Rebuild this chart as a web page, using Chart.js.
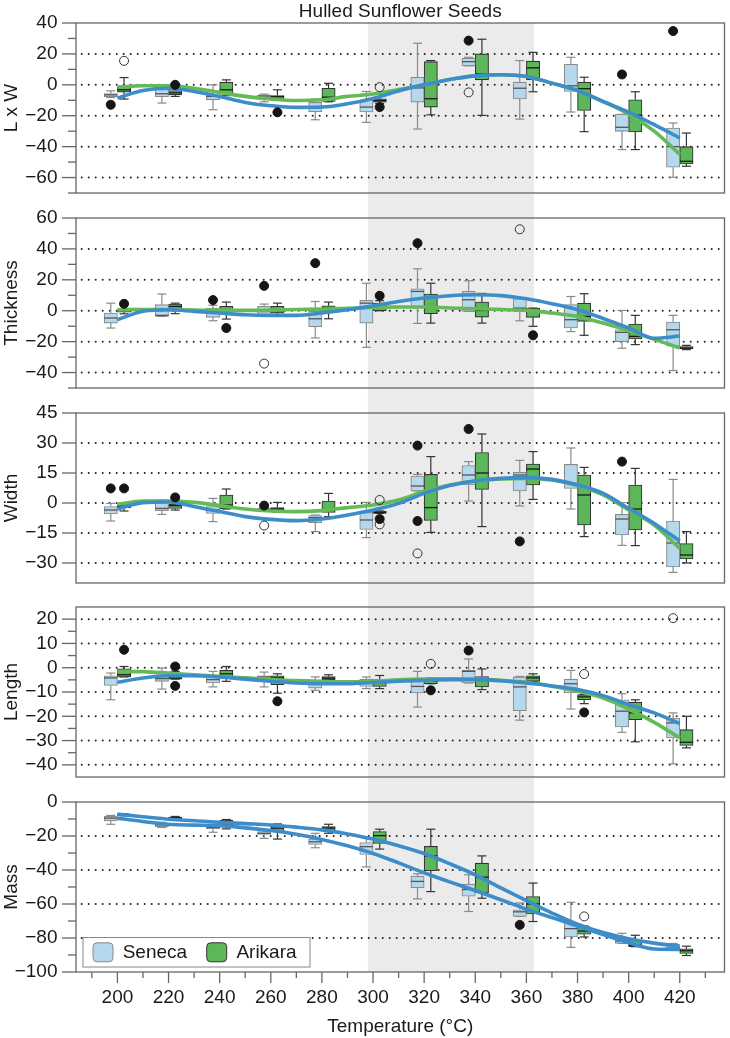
<!DOCTYPE html>
<html>
<head>
<meta charset="utf-8">
<title>Hulled Sunflower Seeds</title>
<script src="https://cdn.jsdelivr.net/npm/chart.js@4.4.1/dist/chart.umd.min.js"></script>
<style>
  body { margin: 0; background: #fff; }
  #wrap { position: relative; width: 730px; height: 1038px; }
  #wrap canvas { position: absolute; left: 0; }
</style>
</head>
<body>
<div id="wrap">
  <canvas id="lxw" width="730" height="200" style="top:0px"></canvas>
  <canvas id="thick" width="730" height="195" style="top:200px"></canvas>
  <canvas id="width" width="730" height="195" style="top:395px"></canvas>
  <canvas id="length" width="730" height="195" style="top:590px"></canvas>
  <canvas id="mass" width="730" height="253" style="top:785px"></canvas>
</div>
<script>
// ---- data ----
var groups = ['Seneca', 'Arikara'];
var temps = [200, 220, 240, 260, 280, 300, 320, 340, 360, 380, 400, 420];
var curveTemps = [200, 210, 220, 230, 240, 250, 260, 270, 280, 290, 300, 310,
                  320, 330, 340, 350, 360, 370, 380, 390, 400, 410, 420];
var xTicks = [200, 220, 240, 260, 280, 300, 320, 340, 360, 380, 400, 420];
var xMinor = [190, 210, 230, 250, 270, 290, 310, 330, 350, 370, 390, 410, 430];
var shadeRange = [298, 363];

// boxes are [low whisker, q1, median, q3, high whisker] for each temperature
var lxwRange = [-70, 40];
var lxwTicks = [-60, -40, -20, 0, 20, 40];
var lxwMinor = [-70, -50, -30, -10, 10, 30];
var lxwSeneca = [
  [-8.2, -7.7, -6.5, -5.6, -3.9], [-11.8, -7.7, -5.8, -2.8, -1], [-16.1, -9.7, -7.5, -6.5, 0],
  [-11, -8.6, -7.3, -6.5, -6], [-22.6, -17.4, -14.4, -11.4, -9.2], [-24.3, -17.6, -14.4, -9.7, -4.3],
  [-28.6, -11.2, -2, 4.9, 26.9], [12.3, 12.3, 15, 17.2, 17.8], [-22.2, -9.2, -2.2, 1.7, 15.7],
  [-17.6, -4.3, -0.6, 13.3, 17.8], [-41.9, -30.1, -27.5, -19.1, -19.1], [-59.8, -53.3, -40, -28, -24.7]
];
var lxwArikara = [
  [-9.2, -4.7, -3.2, -1.5, 4.7], [-7.5, -6.5, -5.2, -3.7, -2], [-7, -6, -3.2, 1.7, 3.2],
  [-9.5, -9, -7.7, -6.9, -3.2], [-11, -10.8, -8, -2.2, 1], [-12, -11.2, -10.1, -9, -6],
  [-19.4, -14.4, -9, 15, 15.7], [-19.8, 3.2, 7.1, 20, 29.5], [-4.5, 3.2, 11, 15.3, 21],
  [-30.3, -16.6, -2.5, 1.7, 4.9], [-41.9, -30.5, -19.6, -9.7, -4.5], [-52.7, -51.2, -49.5, -40, -31.2]
];
var lxwSenecaCurve = [-8.6, -3.7, -2.2, -4.3, -7.5, -11.4, -13.5, -14.6, -14.4, -12.3, -8.8, -4,
                      0, 3.5, 5.8, 6.5, 5.4, 1.1, -3.7, -10.8, -17.6, -25.8, -34.4];
var lxwArikaraCurve = [-1.5, -0.6, -0.6, -2.2, -4.9, -7.5, -9.2, -10.1, -9.7, -7.5, -6, -3,
                       0, 3.5, 5.8, 6.5, 5.4, 1.1, -3.7, -10.8, -19, -30, -45];
// outliers: [group, temperature, value, marker kind]
var lxwOutliers = [
  ['Seneca', 200, -12.9, 'solid'], ['Seneca', 340, 28.6, 'solid'], ['Seneca', 340, -4.9, 'hollow'],
  ['Seneca', 400, 6.7, 'solid'], ['Seneca', 420, 34.8, 'solid'],
  ['Arikara', 200, 15.5, 'hollow'], ['Arikara', 220, 0, 'solid'], ['Arikara', 260, -17.8, 'solid'],
  ['Arikara', 300, -1.5, 'hollow'], ['Arikara', 300, -14.4, 'solid']
];

var thickRange = [-50, 60];
var thickTicks = [-40, -20, 0, 20, 40, 60];
var thickMinor = [-50, -30, -10, 10, 30, 50];
var thickSeneca = [
  [-11.2, -8, -4.7, -1.5, 4.9], [-3.7, -3.7, -3, 3.9, 10.8], [-6.5, -4.3, -1.5, 1.7, 3.5],
  [-3.7, -3.7, -0.5, 2.8, 4.3], [-17.6, -10.3, -5.2, -0.4, 6], [-23.7, -8, 4.9, 6.7, 17.8],
  [-8.2, 1.7, 12.5, 14.2, 27.1], [-0.4, -0.4, 7.1, 12.5, 19.4], [-6.5, 1.3, 1.7, 7.7, 7.7],
  [-13.5, -11.2, -5.8, 3.9, 9.2], [-24.3, -20, -14, -12.3, 0.2], [-38.7, -23, -12.3, -7.3, -3]
];
var thickArikara = [
  [-2, -1, 0, 0.5, 1], [-1.9, 0.6, 2.8, 4.3, 4.9], [-5.4, -2.2, 0.6, 2.8, 5.6],
  [-2.6, -1.5, 0, 2.8, 4.9], [-5.2, -0.4, 1.7, 3.2, 5.6], [0, 0, 2, 5, 6.5],
  [-8, -1.9, 1.7, 10.8, 17.8], [-8, -4.1, 0.2, 5.6, 11.2], [-10.1, -4.3, 0, 1.7, 1.7],
  [-15.9, -6.9, -3.7, 4.9, 11], [-21.9, -18.3, -16.6, -8.6, -3], [-25.2, -24.5, -24.1, -23.2, -22.4]
];
var thickSenecaCurve = [-5.8, -0.4, 0.6, -0.4, -1.5, -2.6, -3, -3, -1.5, 0.6, 3.2, 6,
                        8.2, 9.7, 10.3, 9.8, 7.7, 4.5, 0.6, -5, -11.2, -17.8, -16.4];
var thickArikaraCurve = [0.6, 0.8, 0.6, 0.4, 0.2, 0.2, 0.4, 0.8, 1.1, 1.5, 2.2, 2.4,
                         2.4, 1.8, 1.3, 0.8, 0.2, -1.5, -3.7, -8, -12.9, -18.5, -24.1];
var thickOutliers = [
  ['Seneca', 240, 6.9, 'solid'], ['Seneca', 260, 16.1, 'solid'], ['Seneca', 260, -34.2, 'hollow'],
  ['Seneca', 280, 30.8, 'solid'], ['Seneca', 320, 43.7, 'solid'], ['Seneca', 360, 52.7, 'hollow'],
  ['Arikara', 200, 4.5, 'solid'], ['Arikara', 240, -11.2, 'solid'], ['Arikara', 300, 9.7, 'solid'],
  ['Arikara', 360, -15.9, 'solid']
];

var widthRange = [-40, 45];
var widthTicks = [-30, -15, 0, 15, 30, 45];
var widthMinor = [];
var widthSeneca = [
  [-9, -5.5, -3.5, -1.8, -0.2], [-5.7, -3.8, -2.7, 0.7, 1.5], [-9.3, -5.2, -3.5, -1.8, 2.3],
  [-4, -3.5, -3, -2.5, -2], [-14.3, -9.8, -7.3, -6.3, -6], [-17.3, -13.2, -8.5, -4.7, 0.3],
  [6, 6, 8.5, 13.5, 14.3], [1, 9, 14, 18.7, 20.7], [-1.5, 6, 14, 15.3, 21.3],
  [-3, 7.3, 9.8, 19.3, 27.5], [-21.2, -16, -8, -5.7, 0.2], [-34.7, -32, -20, -9, 11.8]
];
var widthArikara = [
  [-4, -2.3, -1.7, -1, -0.5], [-3.5, -2.7, -1.3, -0.7, 1], [-3, -3, -1, 4, 7],
  [-4.7, -4, -3, -2.3, 0.3], [-6.8, -4.7, -3.5, 1, 4.8], [-5.2, -5.2, -4.7, -4, -4],
  [-14.7, -8.7, -2.3, 14.3, 23.2], [-11.8, 6.8, 15, 25.2, 34.5], [1.8, 9, 17, 19.5, 25.7],
  [-16.8, -11, 4, 14, 17.8], [-21.3, -13.5, -3, 9, 17.3], [-30, -28, -26, -20.3, -14.3]
];
var widthSenecaCurve = [-3, 0.2, 0.5, -1.8, -4.3, -6.8, -8.2, -8.8, -8, -6, -3.5, -0.2,
                        4.8, 8.7, 11, 12.3, 12.7, 11.8, 9, 4.8, -2.7, -10.2, -19];
var widthArikaraCurve = [-0.7, 1, 1, 0.3, -1.3, -3, -4, -4.3, -3.8, -2.3, -1, 1.5,
                         5.7, 9, 11, 12, 12.3, 11.5, 8.7, 4, -3.5, -11, -22.7];
var widthOutliers = [
  ['Seneca', 200, 7.3, 'solid'], ['Seneca', 260, -1.3, 'solid'], ['Seneca', 260, -11.3, 'hollow'],
  ['Seneca', 320, 28.7, 'solid'], ['Seneca', 320, -9, 'solid'], ['Seneca', 320, -25.2, 'hollow'],
  ['Seneca', 340, 37, 'solid'], ['Seneca', 360, -19.2, 'solid'], ['Seneca', 400, 20.7, 'solid'],
  ['Arikara', 200, 7.3, 'solid'], ['Arikara', 220, 2.8, 'solid'], ['Arikara', 300, 1.5, 'hollow'],
  ['Arikara', 300, -8, 'solid'], ['Arikara', 300, -10.7, 'hollow']
];

var lengthRange = [-45, 25];
var lengthTicks = [-40, -30, -20, -10, 0, 10, 20];
var lengthMinor = [-35, -25, -15, -5, 5, 15];
var lengthSeneca = [
  [-13.2, -7.3, -4.2, -3.3, -2.2], [-8.8, -5.6, -4.5, -2.9, -0.1], [-7.9, -6.3, -4.9, -2.9, -1.5],
  [-7.9, -4.7, -3.8, -3.3, -1.8], [-9.3, -8.4, -6.8, -5.6, -3.8], [-8.6, -7.7, -6.3, -4.7, -3.8],
  [-16.2, -10.4, -7.7, -5.2, -1.5], [-6.3, -6.3, -1.5, -1.1, 3.6], [-21.6, -17.7, -7.9, -3.8, -3.6],
  [-17, -10.4, -6.6, -4.7, -1.1], [-26.6, -24.4, -17.9, -13.2, -10.7], [-39.6, -28.9, -22.7, -20.7, -18.6]
];
var lengthArikara = [
  [-3.8, -3.8, -2.9, -0.5, 0.5], [-4.7, -4.7, -4.2, -3.3, -1.5], [-5.6, -3.8, -2.5, -1.1, 0.5],
  [-10.5, -7, -4.2, -3.3, -2.5], [-4.9, -4.9, -4.3, -3.6, -2.9], [-8.6, -7.7, -6.3, -4.9, -3.2],
  [-6.6, -6.6, -5.6, -4.7, -4.2], [-9, -7.9, -4.7, -3.6, -0.5], [-5.6, -5.6, -4.2, -3.3, -2.5],
  [-14.8, -13.2, -12, -11.1, -11.1], [-30.5, -21.4, -18.6, -14.2, -13.2], [-33, -32, -30.7, -25.5, -20]
];
var lengthSenecaCurve = [-6, -4.2, -3.3, -3.3, -3.8, -4.7, -5.6, -6.3, -6.6, -6.6, -6.1, -5.6,
                         -5.2, -4.9, -4.9, -5.4, -6.3, -7.5, -9, -11.5, -15.2, -18.6, -23];
var lengthArikaraCurve = [-1.5, -1.6, -2.2, -2.9, -3.6, -4.2, -4.9, -5.3, -5.6, -5.8, -5.5, -5,
                          -4.7, -4.6, -4.7, -5.2, -6, -7.6, -9.7, -12.5, -17, -22.5, -28.9];
var lengthOutliers = [
  ['Seneca', 340, 7.1, 'solid'], ['Seneca', 420, 20.4, 'hollow'],
  ['Arikara', 200, 7.4, 'solid'], ['Arikara', 220, 0.5, 'solid'], ['Arikara', 220, -7.5, 'solid'],
  ['Arikara', 260, -13.8, 'solid'], ['Arikara', 320, 1.6, 'hollow'], ['Arikara', 320, -9.3, 'solid'],
  ['Arikara', 380, -2.6, 'hollow'], ['Arikara', 380, -18.4, 'solid']
];

var massRange = [-100, 0];
var massTicks = [-100, -80, -60, -40, -20, 0];
var massMinor = [-90, -70, -50, -30, -10];
var massSeneca = [
  [-13.1, -11.1, -9.5, -8.5, -7.9], [-15, -14.5, -13.5, -12.5, -11.9], [-17.8, -15.8, -14.9, -13.5, -13.1],
  [-21.4, -19, -18.4, -17.4, -16.4], [-26.9, -25, -23.4, -21.8, -18.4], [-38.2, -30.9, -26.3, -23.8, -21.4],
  [-57, -50.5, -46.7, -43.6, -42.2], [-64.4, -55.4, -51.5, -48.3, -42.8], [-67.3, -67.3, -64.6, -63.4, -59.4],
  [-85.5, -79.4, -74.5, -70.9, -59], [-83.2, -83.2, -81.8, -80.8, -77.2], [-87.1, -87.1, -86.1, -85.1, -83.2]
];
var massArikara = [
  [-8.1, -7.9, -7.5, -7.1, -6.9], [-10.7, -10.3, -9.5, -8.9, -8.5], [-15.8, -13.5, -11.9, -10.7, -10.3],
  [-21.8, -17.4, -15.4, -13.5, -12.9], [-18.4, -17, -15.4, -14.5, -13.1], [-27.7, -24.4, -19.8, -17.4, -16],
  [-52.7, -40.4, -31.7, -26.1, -16], [-56.6, -53.5, -44.2, -36, -31.7], [-70.3, -65.9, -60, -55.6, -47.7],
  [-79.4, -77.8, -75.9, -73.5, -72.9], [-85.1, -85.1, -84.3, -81.2, -78.4], [-90.3, -89.1, -87.5, -86.3, -84.8]
];
var massSenecaCurve = [-9.5, -11.5, -13.1, -13.6, -13.9, -15.2, -16.8, -19, -22, -25.8, -30.3, -35.8,
                       -41.6, -47, -52.1, -57.5, -63, -68, -72.9, -78, -82.8, -86.5, -86.7];
var massArikaraCurve = [-7.1, -8.7, -10.1, -11, -11.9, -12.7, -13.5, -14.8, -16.4, -18.8, -21.8, -25.7,
                        -30.3, -36.3, -42.8, -50.5, -58, -65.3, -71.9, -76.8, -80.4, -83, -84.8];
var massOutliers = [['Seneca', 360, -72.3, 'solid'], ['Arikara', 380, -67.3, 'hollow']];

// ---- look ----
var FONT = "'Liberation Sans', Arial, Helvetica, sans-serif";
var TEXT = '#1a1a1a';
var BOX_FILL = { Seneca: '#b5d8ec', Arikara: '#5cb65a' };
var BOX_EDGE = { Seneca: '#8a8a8a', Arikara: '#333333' };
var MEDIAN = { Seneca: '#555555', Arikara: '#1a1a1a' };
var LINE = { Seneca: '#3c8dca', Arikara: '#63ba56' };
var SHIFT = { Seneca: -2.6, Arikara: 2.6 };   // boxes sit either side of each temperature
var BOX_PX = 13.3;

Chart.defaults.font.family = FONT;
Chart.defaults.color = TEXT;

function fmt(v) { return v < 0 ? '\u2212' + Math.abs(v) : String(v); }

function line(ctx, x0, y0, x1, y1) {
  ctx.beginPath(); ctx.moveTo(x0, y0); ctx.lineTo(x1, y1); ctx.stroke();
}

var panelPlugin = {
  id: 'panel',
  beforeDraw: function (chart, args, o) {
    var ctx = chart.ctx, a = chart.chartArea, x = chart.scales.x, y = chart.scales.y;
    var x0 = x.getPixelForValue(shadeRange[0]), x1 = x.getPixelForValue(shadeRange[1]);
    var top = o.first ? a.top : 0, bottom = o.last ? a.bottom : chart.height;
    ctx.save();
    ctx.fillStyle = '#ebebeb';
    ctx.fillRect(x0, top, x1 - x0, bottom - top);
    // dotted reference lines
    ctx.strokeStyle = '#222';
    ctx.lineWidth = 2;
    ctx.lineCap = 'round';
    ctx.setLineDash([0, 7]);
    o.ticks.forEach(function (v) {
      if (v <= y.min || v >= y.max) return;
      var py = y.getPixelForValue(v);
      line(ctx, a.left + 5.7, py, a.right - 2, py);
    });
    ctx.restore();
  },
  beforeDatasetsDraw: function (chart) {
    var ctx = chart.ctx, y = chart.scales.y;
    ctx.save();
    ctx.lineWidth = 1.2;
    chart.data.datasets.forEach(function (ds, i) {
      if (!ds.stats) return;
      var meta = chart.getDatasetMeta(i);
      ctx.strokeStyle = ds.whiskerColor;
      ds.stats.forEach(function (s, j) {
        var px = meta.data[j].x;
        var lo = y.getPixelForValue(s[0]), q1 = y.getPixelForValue(s[1]);
        var q3 = y.getPixelForValue(s[3]), hi = y.getPixelForValue(s[4]);
        line(ctx, px, q3, px, hi);
        line(ctx, px, q1, px, lo);
        line(ctx, px - 4.5, hi, px + 4.5, hi);
        line(ctx, px - 4.5, lo, px + 4.5, lo);
      });
    });
    ctx.restore();
  },
  afterDatasetDraw: function (chart, args) {
    var ds = chart.data.datasets[args.index];
    if (!ds.stats) return;
    var ctx = chart.ctx, y = chart.scales.y;
    ctx.save();
    ctx.strokeStyle = ds.medianColor;
    ctx.lineWidth = 1.3;
    ds.stats.forEach(function (s, j) {
      var el = args.meta.data[j], py = y.getPixelForValue(s[2]);
      line(ctx, el.x - el.width / 2, py, el.x + el.width / 2, py);
    });
    ctx.restore();
  },
  afterDraw: function (chart, args, o) {
    var ctx = chart.ctx, a = chart.chartArea, x = chart.scales.x, y = chart.scales.y;
    ctx.save();
    ctx.strokeStyle = '#666';
    ctx.lineWidth = 1.3;
    ctx.strokeRect(a.left, a.top, a.right - a.left, a.bottom - a.top);
    o.ticks.forEach(function (v) {
      var py = y.getPixelForValue(v);
      line(ctx, a.left - 14, py, a.left, py);
    });
    o.minor.forEach(function (v) {
      var py = y.getPixelForValue(v);
      line(ctx, a.left - 8, py, a.left, py);
    });
    if (o.last) {
      xTicks.forEach(function (v) {
        var px = x.getPixelForValue(v);
        line(ctx, px, a.bottom, px, a.bottom + 11);
      });
      xMinor.forEach(function (v) {
        var px = x.getPixelForValue(v);
        line(ctx, px, a.bottom, px, a.bottom + 6);
      });
      // legend box in the lower left corner
      var lx = a.left + 7, ly = a.bottom - 34.5;
      ctx.fillStyle = '#fff';
      ctx.strokeStyle = '#888';
      ctx.lineWidth = 1;
      ctx.fillRect(lx, ly, 227, 29.5);
      ctx.strokeRect(lx, ly, 227, 29.5);
      ctx.font = '19px ' + FONT;
      ctx.textBaseline = 'middle';
      ctx.textAlign = 'left';
      var sx = [lx + 10, lx + 123.7];
      groups.forEach(function (g, k) {
        ctx.beginPath();
        ctx.roundRect(sx[k], ly + 5.3, 20, 19, 4);
        ctx.fillStyle = BOX_FILL[g];
        ctx.fill();
        ctx.strokeStyle = BOX_EDGE[g];
        ctx.stroke();
        ctx.fillStyle = TEXT;
        ctx.fillText(g, sx[k] + 29.7, ly + 15.5);
      });
    }
    if (o.title) {
      ctx.font = '19px ' + FONT;
      ctx.fillStyle = TEXT;
      ctx.textAlign = 'center';
      ctx.textBaseline = 'alphabetic';
      ctx.fillText(o.title, (a.left + a.right) / 2, 16.7);
    }
    ctx.restore();
  }
};

function makePanel(p) {
  var datasets = [];
  groups.forEach(function (g) {
    var rows = p.boxes[g];
    datasets.push({
      type: 'bar', label: g, order: 3,
      data: rows.map(function (r, i) { return { x: temps[i] + SHIFT[g], y: [r[1], r[3]] }; }),
      stats: rows, whiskerColor: BOX_EDGE[g], medianColor: MEDIAN[g],
      backgroundColor: BOX_FILL[g], borderColor: BOX_EDGE[g], borderWidth: 1.1,
      borderSkipped: false, barThickness: BOX_PX, grouped: false
    });
  });
  groups.forEach(function (g) {
    datasets.push({
      type: 'line', label: g + ' trend', order: 2,
      data: p.curves[g].map(function (v, i) { return { x: curveTemps[i], y: v }; }),
      borderColor: p.curveColors[g], borderWidth: 3.6, pointRadius: 0,
      cubicInterpolationMode: 'monotone', fill: false
    });
  });
  ['solid', 'hollow'].forEach(function (kind) {
    var pts = p.outliers.filter(function (o) { return o[3] === kind; }).map(function (o) {
      return { x: o[1] + SHIFT[o[0]], y: o[2] };
    });
    datasets.push({
      type: 'scatter', label: kind, order: 1, data: pts,
      pointStyle: 'circle', pointRadius: 4.5, borderWidth: 1,
      backgroundColor: kind === 'solid' ? '#151515' : 'rgba(0,0,0,0)',
      borderColor: kind === 'solid' ? '#151515' : '#333'
    });
  });

  return new Chart(document.getElementById(p.id), {
    type: 'bar',
    data: { datasets: datasets },
    plugins: [panelPlugin],
    options: {
      responsive: false, animation: false, events: [],
      layout: { padding: { top: p.padTop, bottom: p.padBottom, left: 0, right: 2.5 } },
      plugins: {
        legend: { display: false }, tooltip: { enabled: false },
        panel: { ticks: p.ticks, minor: p.minor, first: !!p.first, last: !!p.last, title: p.title }
      },
      scales: {
        x: {
          type: 'linear', min: 183.8, max: 437.5, offset: false, display: !!p.last,
          grid: { display: false, drawTicks: false }, border: { display: false },
          afterBuildTicks: function (s) { s.ticks = xTicks.map(function (v) { return { value: v }; }); },
          afterFit: function (s) {
            if (p.last) s.height = 66;
            s.paddingLeft = 0; s.paddingRight = 0;
          },
          ticks: { padding: 14, font: { size: 19 }, color: TEXT },
          title: { display: true, text: 'Temperature (\u00b0C)', font: { size: 19 }, color: TEXT, padding: 0 }
        },
        y: {
          type: 'linear', min: p.range[0], max: p.range[1],
          grid: { display: false, drawTicks: false }, border: { display: false },
          afterBuildTicks: function (s) { s.ticks = p.ticks.map(function (v) { return { value: v }; }); },
          afterFit: function (s) {
            s.width = 76;
            s.paddingTop = 0; s.paddingBottom = 0;
          },
          ticks: { padding: 18.5, font: { size: 19 }, color: TEXT, callback: fmt },
          title: { display: true, text: p.label, font: { size: 19 }, color: TEXT, padding: 0 }
        }
      }
    }
  });
}

var twoColours = { Seneca: LINE.Seneca, Arikara: LINE.Arikara };
var panels = [
  { id: 'lxw', label: 'L x W', title: 'Hulled Sunflower Seeds', first: true, range: lxwRange,
    ticks: lxwTicks, minor: lxwMinor, boxes: { Seneca: lxwSeneca, Arikara: lxwArikara },
    curves: { Seneca: lxwSenecaCurve, Arikara: lxwArikaraCurve }, curveColors: twoColours,
    outliers: lxwOutliers, padTop: 23, padBottom: 7 },
  { id: 'thick', label: 'Thickness', range: thickRange, ticks: thickTicks, minor: thickMinor,
    boxes: { Seneca: thickSeneca, Arikara: thickArikara },
    curves: { Seneca: thickSenecaCurve, Arikara: thickArikaraCurve }, curveColors: twoColours,
    outliers: thickOutliers, padTop: 18, padBottom: 7 },
  { id: 'width', label: 'Width', range: widthRange, ticks: widthTicks, minor: widthMinor,
    boxes: { Seneca: widthSeneca, Arikara: widthArikara },
    curves: { Seneca: widthSenecaCurve, Arikara: widthArikaraCurve }, curveColors: twoColours,
    outliers: widthOutliers, padTop: 18, padBottom: 7 },
  { id: 'length', label: 'Length', range: lengthRange, ticks: lengthTicks, minor: lengthMinor,
    boxes: { Seneca: lengthSeneca, Arikara: lengthArikara },
    curves: { Seneca: lengthSenecaCurve, Arikara: lengthArikaraCurve }, curveColors: twoColours,
    outliers: lengthOutliers, padTop: 17, padBottom: 8 },
  // both mass trend lines are blue in the original
  { id: 'mass', label: 'Mass', last: true, range: massRange, ticks: massTicks, minor: massMinor,
    boxes: { Seneca: massSeneca, Arikara: massArikara },
    curves: { Seneca: massSenecaCurve, Arikara: massArikaraCurve },
    curveColors: { Seneca: LINE.Seneca, Arikara: LINE.Seneca },
    outliers: massOutliers, padTop: 17, padBottom: 0 }
];

panels.forEach(makePanel);
</script>
</body>
</html>
